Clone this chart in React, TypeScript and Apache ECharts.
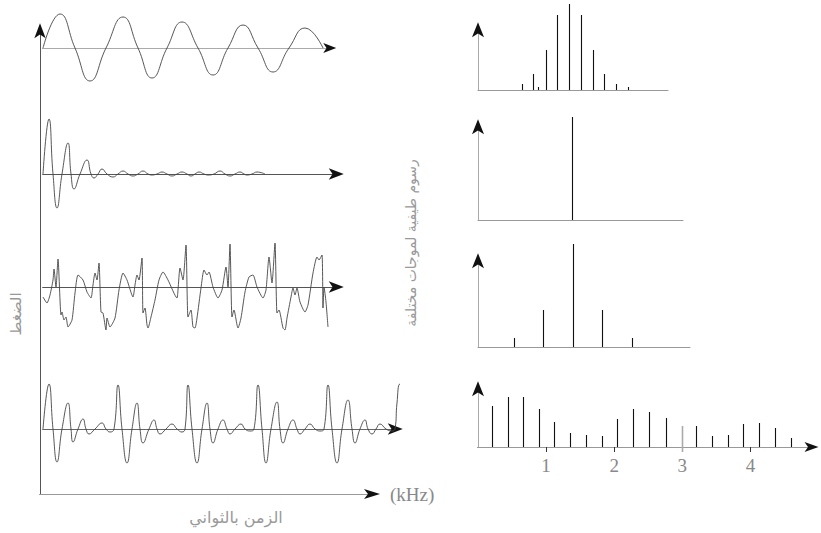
import React, { useEffect, useRef } from "react";
import * as echarts from "echarts";

// ---------- data (time in samples, pressure in relative units) ----------
const sineWave: number[][] = [
  [0, 0], [17, 34], [32, 0], [47, -33], [63, 0], [80, 31], [95, 0], [109, -30], [124, 0],
  [139, 26], [155, 0], [170, -27], [185, 0], [200, 23], [215, 0], [230, -24], [246, 0], [262, 20], [280, 0],
];

const dampedWave: number[][] = [
  [0, 0], [6, 55], [10, 0], [14, -34], [19, 0], [25, 31], [28, 0], [31, -15], [37, 0], [44, 14],
  [48, 0], [51, -4], [55, 0], [59, 5], [64, 0], [70, -3], [75, 0], [80, 3], [85, 0], [90, -2],
  [95, 0], [100, 3], [105, 0], [109, -1], [114, 0], [119, 2], [124, 0], [129, -2], [134, 0], [139, 2],
  [144, 0], [148, -2], [152, 0], [156, 2], [161, 0], [165, -1], [171, 0], [177, 3], [182, 0], [187, -2],
  [192, 0], [197, 2], [201, 0], [204, -1], [209, 0], [214, 2], [222, 0],
];

const vowelWave: number[][] = [
  [0, -10], [4, -16], [7, -8], [10, 7], [11, 18], [13, 0], [15, 28], [18, -28], [19, -25], [21, -33],
  [23, -30], [25, -40], [29, -33], [32, -6], [35, 12], [40, 7], [44, -5], [48, -11], [50, 2], [52, 14],
  [54, 7], [56, 24], [58, -25], [60, -26], [63, -43], [64, -31], [67, -40], [72, -31], [76, -3], [80, 14],
  [84, 7], [90, -10], [92, 2], [94, 12], [96, 7], [99, 29], [100, -26], [102, -21], [104, -38], [105, -41],
  [108, -30], [112, -13], [116, 7], [120, 15], [125, 7], [134, -11], [135, -3], [137, 19], [140, 7], [143, 42],
  [145, -30], [148, -23], [150, -40], [152, -41], [154, -31], [158, -1], [161, 17], [164, 12], [166, 15], [170, 0],
  [175, -11], [179, -3], [183, 20], [185, 0], [187, 43], [189, -30], [191, -23], [194, -38], [195, -41], [198, -31],
  [202, -5], [206, 10], [210, 12], [214, 0], [220, -11], [223, -3], [226, 30], [229, 4], [232, 44], [234, -26],
  [236, -23], [240, -41], [242, -43], [244, -31], [248, -10], [250, -1], [252, -8], [254, -1], [257, -15], [262, -25],
  [265, -18], [270, 14], [274, 30], [276, 27], [279, 32], [280, -21], [281, 0], [283, -15], [285, -40],
];

const pulseWave: number[][] = [
  [0, 0], [6, 45], [10, 0], [14, -33], [19, 0], [25, 26], [28, 0], [30, -13], [35, 0], [40, 10],
  [43, 0], [46, -5], [52, 0], [59, 6], [63, 0], [67, -3], [71, 0], [75, 44], [79, 0], [84, -34],
  [89, 0], [94, 26], [97, 0], [100, -14], [106, 0], [111, 9], [114, 0], [117, -5], [123, 0], [129, 5],
  [134, 0], [139, -3], [142, 0], [145, 44], [149, 0], [154, -34], [159, 0], [164, 26], [167, 0], [170, -14],
  [175, 0], [180, 9], [184, 0], [187, -5], [192, 0], [198, 5], [202, 0], [207, -2], [211, 0], [215, 44],
  [219, 0], [223, -34], [228, 0], [234, 27], [237, 0], [240, -14], [245, 0], [250, 9], [254, 0], [257, -5],
  [262, 0], [267, 5], [272, 0], [277, -2], [281, 0], [285, 44], [289, 0], [294, -34], [299, 0], [305, 29],
  [309, 0], [312, -14], [317, 0], [322, 9], [325, 0], [329, -5], [333, 0], [337, 5], [343, 0], [349, -2],
  [352, 0], [354, 26], [357, 45], [360, 42],
];

// spectra: frequency (kHz) and relative amplitude
const spectrum1Freq = [0.65, 0.81, 0.88, 1.0, 1.16, 1.34, 1.51, 1.69, 1.85, 2.03, 2.2];
const spectrum1Amp = [6, 16, 3, 40, 75, 86, 75, 40, 16, 6, 3];
const spectrum2Freq = [1.38];
const spectrum2Amp = [103];
const spectrum3Freq = [0.53, 0.95, 1.4, 1.82, 2.26];
const spectrum3Amp = [9, 37, 103, 37, 9];
const spectrum4Freq = [0.21, 0.44, 0.66, 0.9, 1.12, 1.35, 1.59, 1.82, 2.04, 2.28, 2.51, 2.76, 3.2, 3.44, 3.67, 3.89, 4.13, 4.36, 4.6];
const spectrum4Amp = [41, 50, 50, 38, 25, 14, 12, 11, 28, 38, 35, 29, 21, 11, 12, 23, 24, 19, 9];
const freqTickValues = [1, 2, 4];
const freqLabelValues = [1, 2, 3, 4];
const scaleMarkFreq = [3];
const scaleMarkAmp = [21];

const pressureLabel = "الضغط";
const timeLabel = "الزمن بالثواني";
const spectraLabel = "رسوم طيفية لموجات مختلفة";
const unitLabel = "(kHz)";

const PX_PER_KHZ = 68.1;

function buildOption() {
  const grids: any[] = [];
  const xAxes: any[] = [];
  const yAxes: any[] = [];
  const series: any[] = [];

  const addGrid = (left: number, top: number, width: number, height: number) => {
    grids.push({ left, top, width, height, containLabel: false });
    return grids.length - 1;
  };

  const addAxis = (
    dim: "x" | "y",
    gridIndex: number,
    min: number,
    max: number,
    color: string,
    arrow: number[] | null,
    extra: any = {}
  ) => {
    const list = dim === "x" ? xAxes : yAxes;
    const base = {
      type: "value",
      gridIndex,
      min,
      max,
      position: dim === "x" ? "bottom" : "left",
      splitLine: { show: false },
      axisTick: { show: false },
      axisLabel: { show: false },
    };
    const first = list.length;
    if (arrow) {
      list.push({
        ...base,
        axisLine: {
          show: true,
          onZero: false,
          symbol: ["none", "arrow"],
          symbolSize: arrow,
          symbolOffset: [0, arrow[1] / 4],
          lineStyle: { color: "#111", width: 1 },
        },
      });
    }
    list.push({ ...base, ...extra, axisLine: { show: true, onZero: false, lineStyle: { color, width: 1 } } });
    return first;
  };

  const hiddenY = (gridIndex: number, max: number) => {
    yAxes.push({ type: "value", gridIndex, min: 0, max, show: false });
    return yAxes.length - 1;
  };

  // main frame
  const g0 = addGrid(40, 27, 336, 467);
  addAxis("x", g0, 0, 1, "#999", [7.5, 16], {
    name: unitLabel,
    nameLocation: "end",
    nameGap: 14,
    nameTextStyle: { color: "#888", fontFamily: "Liberation Serif", fontSize: 19, verticalAlign: "middle", align: "left" },
  });
  addAxis("y", g0, 0, 1, "#555", [8.5, 15]);

  // waveforms
  const waves = [
    { data: sineWave, top: 8, width: 290, height: 40, color: "#aaa", arrow: [7.5, 13], smooth: 0.5 },
    { data: dampedWave, top: 114, width: 297, height: 60, color: "#555", arrow: [8.5, 15], smooth: 0.5 },
    { data: vowelWave, top: 242, width: 297, height: 45, color: "#555", arrow: [8.5, 15], smooth: 0.2 },
    { data: pulseWave, top: 384, width: 356, height: 45, color: "#666", arrow: [8.5, 15], smooth: 0.5 },
  ];
  waves.forEach((w) => {
    const g = addGrid(43, w.top, w.width, w.height);
    const xi = addAxis("x", g, 0, w.width, w.color, w.arrow);
    const yi = hiddenY(g, w.height);
    series.push({
      type: "line",
      xAxisIndex: xi,
      yAxisIndex: yi,
      data: w.data,
      showSymbol: false,
      symbol: "none",
      smooth: w.smooth,
      clip: false,
      silent: true,
      lineStyle: { color: "#444", width: 0.9 },
    });
  });

  // spectra
  const stem = (xi: number, yi: number, freqs: number[], amps: number[], color: string, width: number, base: number) => ({
    type: "custom",
    coordinateSystem: "cartesian2d",
    xAxisIndex: xi,
    yAxisIndex: yi,
    clip: false,
    silent: true,
    data: freqs.map((f, i) => [f, amps[i]]),
    encode: { x: 0, y: 1 },
    renderItem: (_p: any, api: any) => {
      const a = api.coord([api.value(0), base]);
      const b = api.coord([api.value(0), api.value(1)]);
      const x = Math.round(a[0]) + 0.5;
      return {
        type: "line",
        shape: { x1: x, y1: a[1], x2: x, y2: b[1] },
        style: { stroke: color, lineWidth: width },
      };
    },
  });

  const specs = [
    { f: spectrum1Freq, a: spectrum1Amp, top: 26, width: 190, height: 64 },
    { f: spectrum2Freq, a: spectrum2Amp, top: 123, width: 205, height: 97 },
    { f: spectrum3Freq, a: spectrum3Amp, top: 257, width: 212, height: 90 },
  ];
  specs.forEach((s) => {
    const g = addGrid(478, s.top, s.width, s.height);
    const xi = addAxis("x", g, 0, s.width / PX_PER_KHZ, "#999", null);
    const yi = addAxis("y", g, 0, s.height, "#aaa", [9, 15]);
    series.push(stem(xi, yi, s.f, s.a, "#111", 1.1, 0));
  });

  const g8 = addGrid(478, 385, 337, 62);
  const x8 = addAxis("x", g8, 0, 337 / PX_PER_KHZ, "#999", [7.5, 14], {
    axisTick: { show: true, length: 5, inside: false, customValues: freqTickValues, lineStyle: { color: "#333", width: 1 } },
    axisLabel: {
      show: true,
      customValues: freqLabelValues,
      margin: 9,
      color: "#888",
      fontFamily: "Liberation Serif",
      fontSize: 19,
    },
  });
  const y8 = addAxis("y", g8, 0, 62, "#aaa", [9, 15]);
  series.push(stem(x8, y8, scaleMarkFreq, scaleMarkAmp, "#aaa", 1.6, -5));
  series.push(stem(x8, y8, spectrum4Freq, spectrum4Amp, "#111", 1.1, 0));

  const textStyle = (text: string, size: number) => ({
    text,
    fill: "#999",
    font: `${size}px "DejaVu Sans"`,
    textAlign: "center",
    textVerticalAlign: "middle",
    align: "center",
    verticalAlign: "middle",
  });

  const graphic = [
    { type: "text", x: 16, y: 314, rotation: Math.PI / 2, silent: true, style: textStyle(pressureLabel, 15) },
    { type: "text", x: 411, y: 243, rotation: Math.PI / 2, silent: true, style: textStyle(spectraLabel, 14) },
    { type: "text", x: 236, y: 517, silent: true, style: textStyle(timeLabel, 16) },
  ];

  return {
    animation: false,
    backgroundColor: "#fff",
    grid: grids,
    xAxis: xAxes,
    yAxis: yAxes,
    series,
    graphic,
  };
}

export default function App() {
  const ref = useRef<HTMLDivElement>(null);
  useEffect(() => {
    if (!ref.current) return;
    const chart = echarts.init(ref.current, undefined, { renderer: "svg" });
    chart.setOption(buildOption() as any);
    return () => chart.dispose();
  }, []);
  return (
    <div
      ref={ref}
      style={{ position: "fixed", left: 0, top: 0, width: 821, height: 533, background: "#fff" }}
    />
  );
}
